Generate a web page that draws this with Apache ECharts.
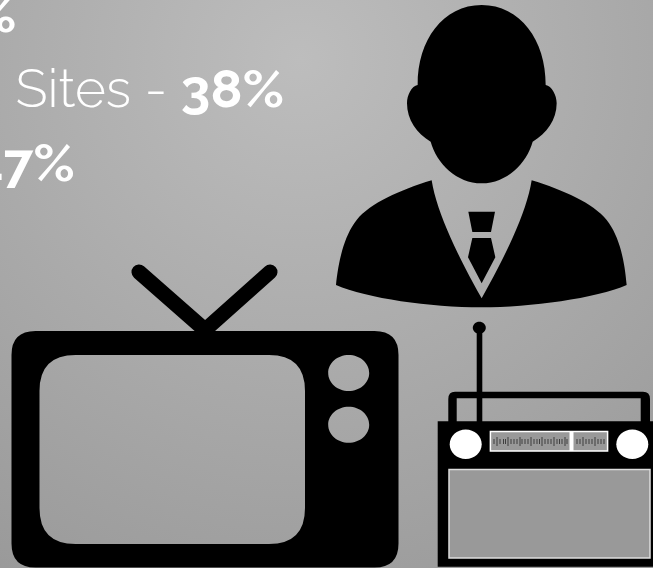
<!DOCTYPE html>
<html><head><meta charset="utf-8">
<style>html,body{margin:0;padding:0;background:#aaa}#c{width:653px;height:568px}</style>
<script src="https://cdn.jsdelivr.net/npm/echarts@6/dist/echarts.min.js"></script>
</head><body><div id="c"></div>
<script>
const statCategories = ['Sites - '];
const statValues = ['%', '38%', '47%'];

const FONT = 'Raleway, Lato, "Open Sans", sans-serif';
const chart = echarts.init(document.getElementById('c'), null, {renderer:'canvas'});

const personPath = 'M263,255 C262,120 340,15 455,15 C570,15 648,120 647,255 C665,258 680,285 680,310 C680,360 650,400 608,425 C590,490 530,550 455,550 C380,550 320,490 302,425 C260,400 231,360 231,310 C231,285 245,258 263,255 Z '
 + 'M305,541 C320,640 390,780 455,895 C520,780 590,640 605,541 C700,570 790,610 830,660 C870,710 885,790 890,855 C800,895 600,922 455,922 C300,922 110,895 18,855 C25,790 40,710 80,660 C120,610 210,570 305,541 Z '
 + 'M415,635 L495,635 L483,696 L427,696 Z M427,714 L483,714 L496,772 L455,850 L414,772 Z';

function rrect(x,y,w,h,r,cw){
  if(cw) return `M${x+r},${y} L${x+w-r},${y} Q${x+w},${y} ${x+w},${y+r} L${x+w},${y+h-r} Q${x+w},${y+h} ${x+w-r},${y+h} L${x+r},${y+h} Q${x},${y+h} ${x},${y+h-r} L${x},${y+r} Q${x},${y} ${x+r},${y} Z `;
  return `M${x+r},${y} Q${x},${y} ${x},${y+r} L${x},${y+h-r} Q${x},${y+h} ${x+r},${y+h} L${x+w-r},${y+h} Q${x+w},${y+h} ${x+w},${y+h-r} L${x+w},${y+r} Q${x+w},${y} ${x+w-r},${y} Z `;
}
function ellCCW(cx,cy,rx,ry){
  const k=0.5523;
  return `M${cx+rx},${cy} C${cx+rx},${cy-ry*k} ${cx+rx*k},${cy-ry} ${cx},${cy-ry} C${cx-rx*k},${cy-ry} ${cx-rx},${cy-ry*k} ${cx-rx},${cy} C${cx-rx},${cy+ry*k} ${cx-rx*k},${cy+ry} ${cx},${cy+ry} C${cx+rx*k},${cy+ry} ${cx+rx},${cy+ry*k} ${cx+rx},${cy} Z `;
}
const tvPath = rrect(11.5,331,387,236.5,24,true) + rrect(39.5,355,265.5,189,36,false) + ellCCW(348.7,373,20.5,18) + ellCCW(348.7,424.7,20.5,18);

const handlePath = 'M448.3,422 L448.3,399 Q448.3,391.7 455,391.7 L643,391.7 Q650,391.7 650,399 L650,422 L640.7,422 L640.7,398.3 L456.7,398.3 L456.7,422 Z';

const dialTicks = [494,497,500,503.5,505.5,508,511,514,517,520,522,525,528,531,534,537,539.5,542,545,548,551,554,557,559.5,562,565,567,
  577,580,583,586,589,592,595,598,601,604];
let tickPath='';
dialTicks.forEach((x,i)=>{const tall=i%4===1; tickPath+=`M${x},${tall?437:439} L${x},${tall?446:444} `;});

const G = echarts.graphic;
G.registerShape('personShape', G.extendPath(personPath));
G.registerShape('tvShape', G.extendPath(tvPath));
G.registerShape('handleShape', G.extendPath(handlePath));
G.registerShape('ticksShape', G.extendPath(tickPath));

const bg = new G.RadialGradient(300,60,720,[{offset:0,color:'#bdbdbd'},{offset:1,color:'#929292'}],true);

const blk='#000';
const rich = {
  l:{fontFamily:FONT,fontSize:53,fontWeight:300,fill:'#fff',color:'#fff'},
  b:{fontFamily:FONT,fontSize:53,fontWeight:700,fill:'#fff',color:'#fff'}
};
const mkText=(x,y,align,text)=>({type:'text',x,y,silent:true,style:{text,rich,fill:'#fff',textAlign:align,textVerticalAlign:'bottom'}});
const texts = [
  mkText(16.5,43,'right',`{b|${statValues[0]}}`),
  mkText(15.5,117.5,'left',`{l|${statCategories[0]}}{b|${statValues[1]}}`),
  mkText(75,191.5,'right',`{b|${statValues[2]}}`)
];

chart.setOption({
  animation:false,
  graphic:{elements:[
    {type:'rect',shape:{x:0,y:0,width:653,height:568},style:{fill:bg}},
    ...texts,
    {type:'personShape',x:330,y:0,scaleX:1/3,scaleY:1/3,style:{fill:blk}},
    {type:'tvShape',style:{fill:blk}},
    {type:'line',shape:{x1:139,y1:272,x2:205,y2:330},style:{stroke:blk,lineWidth:15,lineCap:'round'}},
    {type:'line',shape:{x1:270,y1:272,x2:205,y2:330},style:{stroke:blk,lineWidth:15,lineCap:'round'}},
    {type:'ellipse',shape:{cx:479.3,cy:327.7,rx:6.5,ry:6},style:{fill:blk}},
    {type:'rect',shape:{x:476.7,y:328,width:5.6,height:95},style:{fill:blk}},
    {type:'handleShape',style:{fill:blk}},
    {type:'rect',shape:{x:437.7,y:421.3,width:216,height:145.5},style:{fill:blk}},
    {type:'ellipse',shape:{cx:465.7,cy:444.3,rx:16,ry:14.7},style:{fill:'#fff'}},
    {type:'ellipse',shape:{cx:632.3,cy:444.3,rx:16,ry:14.7},style:{fill:'#fff'}},
    {type:'rect',shape:{x:490.4,y:431.4,width:117.2,height:19.6},style:{fill:'#999',stroke:'#fff',lineWidth:1.5}},
    {type:'ticksShape',style:{stroke:'#333',lineWidth:0.9,fill:null}},
    {type:'rect',shape:{x:569.5,y:431,width:4,height:20},style:{fill:'#fff'}},
    {type:'rect',shape:{x:449,y:469.4,width:201,height:88.6},style:{fill:'#999',stroke:'#ddd',lineWidth:1.5}}
  ]}
});
</script></body></html>
